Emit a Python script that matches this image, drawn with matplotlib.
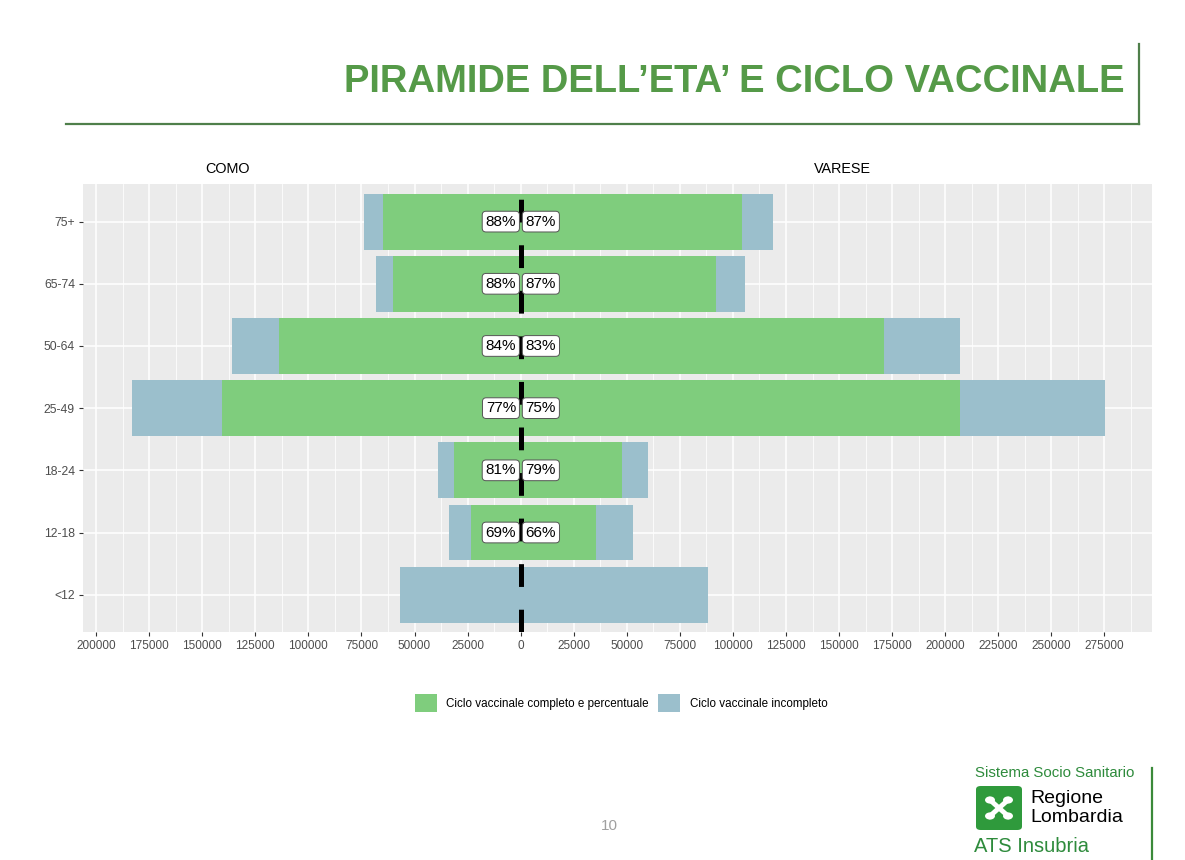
import matplotlib
matplotlib.use("Agg")
import matplotlib.pyplot as plt
import numpy as np
from matplotlib.patches import FancyBboxPatch, Circle
from matplotlib.lines import Line2D

# ---------------- data ----------------
categories = ['<12', '12-18', '18-24', '25-49', '50-64', '65-74', '75+']
como_complete = [0, 23600, 31600, 140800, 114000, 60000, 64900]
como_incomplete = [57000, 10300, 7500, 42400, 22100, 8000, 8900]
varese_complete = [0, 35300, 47600, 206800, 171000, 92200, 104400]
varese_incomplete = [88100, 17500, 12200, 68300, 35800, 13300, 14600]
como_pct = [None, 69, 81, 77, 84, 88, 88]
varese_pct = [None, 66, 79, 75, 83, 87, 87]
x_ticks = list(range(-200000, 275001, 25000))
x_ticklabels = [str(abs(v)) for v in x_ticks]
legend_labels = ['Ciclo vaccinale completo e percentuale', 'Ciclo vaccinale incompleto']
title = 'PIRAMIDE DELL\u2019ETA\u2019 E CICLO VACCINALE'

GREEN = '#7fcd7d'
BLUE = '#9bbfcc'

plt.rcParams['font.family'] = ['Liberation Sans', 'DejaVu Sans']
plt.rcParams['lines.scale_dashes'] = False

W, H = 1185, 860
fig = plt.figure(figsize=(W / 100, H / 100), dpi=100)
fig.patch.set_facecolor('white')

def fx(px):
    return px / W

def fy(py):
    return 1 - py / H

ax = fig.add_axes([fx(82.7), fy(632), fx(1151.6) - fx(82.7), fy(184.3) - fy(632)])
ax.set_facecolor('#ebebeb')
for s in ax.spines.values():
    s.set_visible(False)

y = np.arange(len(categories))
cc = np.array(como_complete)
ci = np.array(como_incomplete)
vc = np.array(varese_complete)
vi = np.array(varese_incomplete)

b1 = ax.barh(y, -cc, height=0.9, color=GREEN, zorder=2)
b2 = ax.barh(y, -ci, left=-cc, height=0.9, color=BLUE, zorder=2)
ax.barh(y, vc, height=0.9, color=GREEN, zorder=2)
ax.barh(y, vi, left=vc, height=0.9, color=BLUE, zorder=2)

ax.set_xticks(x_ticks)
ax.set_xticklabels(x_ticklabels, fontsize=8.5, color='#4d4d4d')
ax.set_xticks([v + 12500 for v in x_ticks], minor=True)
ax.set_yticks(y)
ax.set_yticklabels(categories, fontsize=8.8, color='#4d4d4d')
ax.set_xlim(-206300, 297200)
ax.set_ylim(-0.6, 6.6)
ax.tick_params(axis='both', which='major', length=3, width=0.8, color='#333333', pad=2.5)
ax.tick_params(axis='both', which='minor', length=0)
ax.grid(which='major', color='white', lw=1.1, zorder=0)
ax.grid(which='minor', axis='x', color='white', lw=0.55, zorder=0)
ax.set_axisbelow(True)

# dashed center line
ln = Line2D([0, 0], [-0.6, 6.45], color='black', lw=3.6, zorder=3, solid_capstyle='butt')
ln.set_dashes((16.4, 16.4))
ln.set_dash_capstyle('butt')
ax.add_line(ln)

# labels
for i in range(len(categories)):
    if como_pct[i] is not None:
        ax.annotate(f'{como_pct[i]}%', xy=(0, y[i]), xytext=(-3.3, 0), textcoords='offset points',
                    ha='right', va='center', fontsize=11, color='black', zorder=5,
                    bbox=dict(boxstyle='round,pad=0.22,rounding_size=0.25', fc='white', ec='#555555', lw=0.7))
    if varese_pct[i] is not None:
        ax.annotate(f'{varese_pct[i]}%', xy=(0, y[i]), xytext=(3.6, 0), textcoords='offset points',
                    ha='left', va='center', fontsize=11, color='black', zorder=5,
                    bbox=dict(boxstyle='round,pad=0.22,rounding_size=0.25', fc='white', ec='#555555', lw=0.7))

# facet headings
fig.text(fx(228), fy(169), 'COMO', ha='center', va='center', fontsize=10.4, color='black')
fig.text(fx(842), fy(169), 'VARESE', ha='center', va='center', fontsize=10.4, color='black')

# legend
fig.legend([b1, b2], legend_labels, loc='center', bbox_to_anchor=(fx(621), fy(703)), ncol=2,
           frameon=False, fontsize=8.4, handlelength=1.9, handleheight=2.0,
           handletextpad=0.8, columnspacing=0.8)

# title
fig.text(fx(1125), fy(82), title, ha='right', va='center', fontsize=27.5, fontweight='bold',
         color='#559a48')
fig.add_artist(Line2D([fx(66), fx(1139)], [fy(123.5), fy(123.5)], color='#4f7f4a', lw=1.6))
fig.add_artist(Line2D([fx(1138.5), fx(1138.5)], [fy(44), fy(124)], color='#4f7f4a', lw=1.6))

# footer
fig.text(fx(609), fy(826), '10', ha='center', va='center', fontsize=11, color='#a0a0a0')
fig.add_artist(Line2D([fx(1152), fx(1152)], [fy(768), fy(860)], color='#3b8a3a', lw=1.6))
fig.text(fx(975), fy(773), 'Sistema Socio Sanitario', ha='left', va='center', fontsize=10.8,
         color='#2e8b3c')
logo = FancyBboxPatch((fx(976), fy(830)), fx(46), fy(786) - fy(830),
                      boxstyle='round,pad=0,rounding_size=0.004', transform=fig.transFigure,
                      fc='#2f9a3c', ec='none')
fig.add_artist(logo)
cxl, cyl = 999, 808
for dx, dy in [(-9, -8), (9, -8), (-9, 8), (9, 8)]:
    fig.add_artist(Circle((fx(cxl + dx), fy(cyl + dy)), 0.0042, transform=fig.transFigure,
                          fc='white', ec='none'))
fig.add_artist(Line2D([fx(cxl - 9), fx(cxl + 9)], [fy(cyl - 8), fy(cyl + 8)], color='white', lw=3.5))
fig.add_artist(Line2D([fx(cxl - 9), fx(cxl + 9)], [fy(cyl + 8), fy(cyl - 8)], color='white', lw=3.5))
fig.text(fx(1030), fy(798.5), 'Regione', ha='left', va='center', fontsize=14, color='black')
fig.text(fx(1030), fy(817.5), 'Lombardia', ha='left', va='center', fontsize=14, color='black')
fig.text(fx(974), fy(846), 'ATS Insubria', ha='left', va='center', fontsize=14.5, color='#2e8b3c')

fig.savefig('out.png', dpi=100)
